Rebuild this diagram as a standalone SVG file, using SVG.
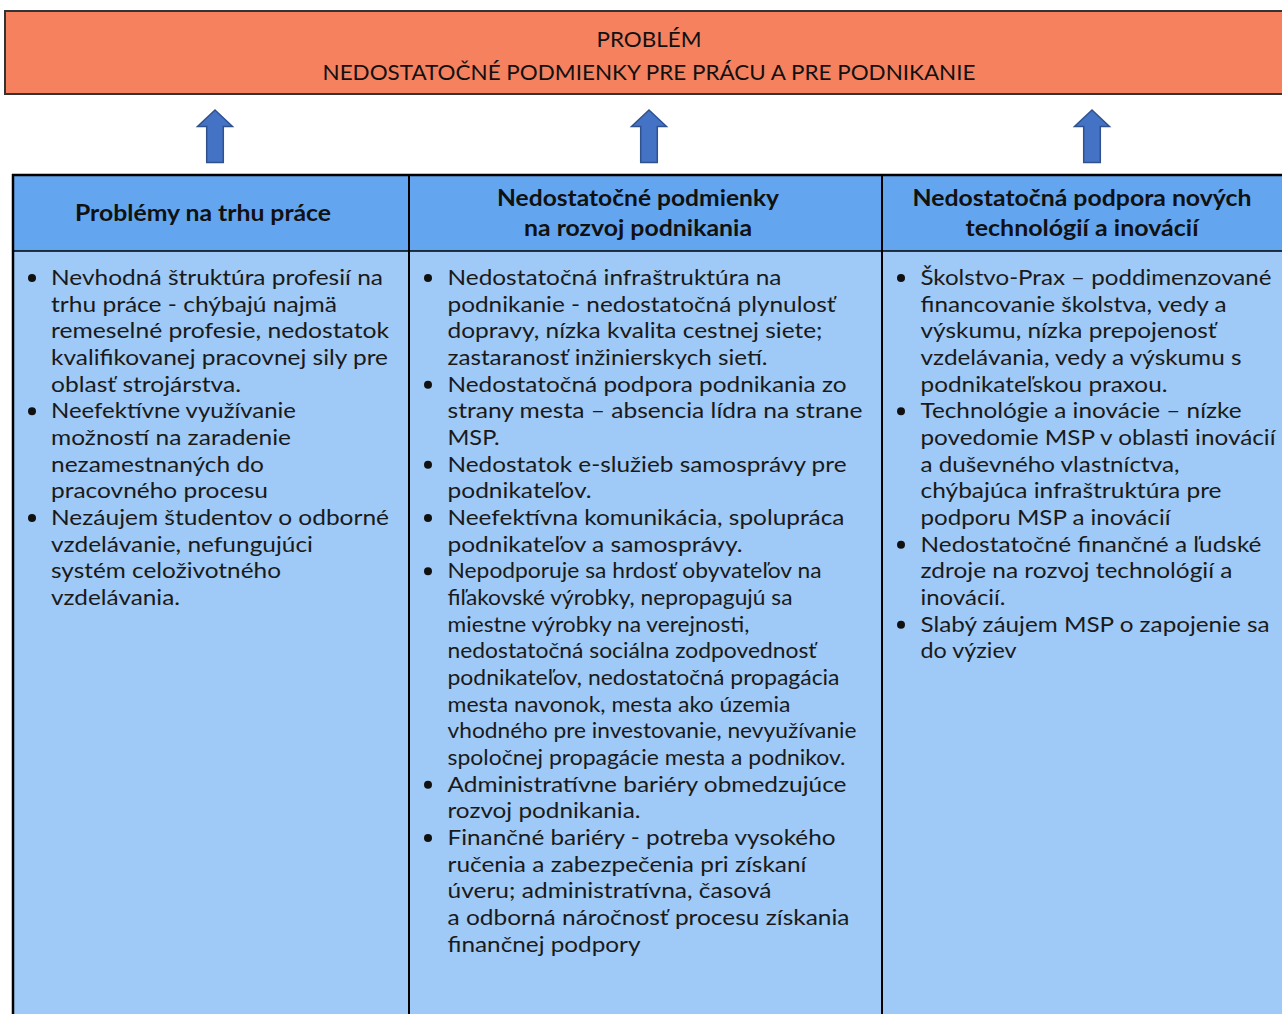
<svg xmlns="http://www.w3.org/2000/svg" width="1282" height="1014" viewBox="0 0 1282 1014">
<defs>
<style>
text{font-family:Lato,"Open Sans","Liberation Sans",sans-serif}
.title{font-size:22px;fill:#111;text-anchor:middle}
.hdr{font-size:22px;font-weight:bold;fill:#111;text-anchor:middle}
.b{font-size:22px;fill:#1a1a1a}
.bul{fill:#111}
.arrow{fill:#4472C4;stroke:#2F528F;stroke-width:1.5}
.hcell{fill:#63A6EF}
.bcell{fill:#9FC9F6}
.grid{stroke:#000;fill:none}
</style>
</defs>
<rect width="1282" height="1014" fill="#fff"/>

<g id="problem">
<rect x="5" y="11" width="1290" height="83" fill="#F6815F" stroke="#333" stroke-width="2"/>
<text class="title" x="649" y="47" textLength="105" lengthAdjust="spacingAndGlyphs">PROBLÉM</text>
<text class="title" x="649" y="80" textLength="653" lengthAdjust="spacingAndGlyphs">NEDOSTATOČNÉ PODMIENKY PRE PRÁCU A PRE PODNIKANIE</text>
</g>

<g id="connectors">
<path class="arrow" d="M215,110 L232.5,126.5 L223.3,126.5 L223.3,162.5 L206.7,162.5 L206.7,126.5 L197.5,126.5 Z"/>
<path class="arrow" d="M649,110 L666.5,126.5 L657.3,126.5 L657.3,162.5 L640.7,162.5 L640.7,126.5 L631.5,126.5 Z"/>
<path class="arrow" d="M1092,110 L1109.5,126.5 L1100.3,126.5 L1100.3,162.5 L1083.7,162.5 L1083.7,126.5 L1074.5,126.5 Z"/>
</g>

<g id="table-grid">
<rect class="hcell" x="13" y="175" width="1275" height="76"/>
<rect class="bcell" x="13" y="251" width="1275" height="770"/>
<line class="grid" x1="12" y1="175" x2="1290" y2="175" stroke-width="2.5"/>
<line class="grid" x1="13" y1="174" x2="13" y2="1020" stroke-width="2.5"/>
<line class="grid" x1="409" y1="174" x2="409" y2="1020" stroke-width="2"/>
<line class="grid" x1="882" y1="174" x2="882" y2="1020" stroke-width="2"/>
<line class="grid" x1="13" y1="251" x2="1290" y2="251" stroke-width="1.5"/>
</g>

<g id="col1">
<text class="hdr" x="203" y="221" textLength="256" lengthAdjust="spacingAndGlyphs">Problémy na trhu práce</text>
<g class="bul"><circle cx="32" cy="278" r="4"/><circle cx="32" cy="411.3" r="4"/><circle cx="32" cy="518" r="4"/></g>
<text class="b" x="51" y="285" textLength="332" lengthAdjust="spacingAndGlyphs">Nevhodná štruktúra profesií na</text>
<text class="b" x="51" y="311.67" textLength="286" lengthAdjust="spacingAndGlyphs">trhu práce - chýbajú najmä</text>
<text class="b" x="51" y="338.33" textLength="338" lengthAdjust="spacingAndGlyphs">remeselné profesie, nedostatok</text>
<text class="b" x="51" y="365" textLength="337" lengthAdjust="spacingAndGlyphs">kvalifikovanej pracovnej sily pre</text>
<text class="b" x="51" y="391.67" textLength="190" lengthAdjust="spacingAndGlyphs">oblasť strojárstva.</text>
<text class="b" x="51" y="418.33" textLength="245" lengthAdjust="spacingAndGlyphs">Neefektívne využívanie</text>
<text class="b" x="51" y="445" textLength="240" lengthAdjust="spacingAndGlyphs">možností na zaradenie</text>
<text class="b" x="51" y="471.67" textLength="213" lengthAdjust="spacingAndGlyphs">nezamestnaných do</text>
<text class="b" x="51" y="498.33" textLength="217" lengthAdjust="spacingAndGlyphs">pracovného procesu</text>
<text class="b" x="51" y="525" textLength="338" lengthAdjust="spacingAndGlyphs">Nezáujem študentov o odborné</text>
<text class="b" x="51" y="551.67" textLength="262" lengthAdjust="spacingAndGlyphs">vzdelávanie, nefungujúci</text>
<text class="b" x="51" y="578.33" textLength="230" lengthAdjust="spacingAndGlyphs">systém celoživotného</text>
<text class="b" x="51" y="605" textLength="129" lengthAdjust="spacingAndGlyphs">vzdelávania.</text>
</g>

<g id="col2">
<text class="hdr" x="638" y="206" textLength="282" lengthAdjust="spacingAndGlyphs">Nedostatočné podmienky</text>
<text class="hdr" x="638" y="236" textLength="228" lengthAdjust="spacingAndGlyphs">na rozvoj podnikania</text>
<g class="bul"><circle cx="428" cy="278" r="4"/><circle cx="428" cy="384.67" r="4"/><circle cx="428" cy="464.67" r="4"/><circle cx="428" cy="518" r="4"/><circle cx="428" cy="571.33" r="4"/><circle cx="428" cy="784.67" r="4"/><circle cx="428" cy="838" r="4"/></g>
<text class="b" x="447.5" y="285" textLength="334" lengthAdjust="spacingAndGlyphs">Nedostatočná infraštruktúra na</text>
<text class="b" x="447.5" y="311.67" textLength="388" lengthAdjust="spacingAndGlyphs">podnikanie - nedostatočná plynulosť</text>
<text class="b" x="447.5" y="338.33" textLength="375" lengthAdjust="spacingAndGlyphs">dopravy, nízka kvalita cestnej siete;</text>
<text class="b" x="447.5" y="365" textLength="320" lengthAdjust="spacingAndGlyphs">zastaranosť inžinierskych sietí.</text>
<text class="b" x="447.5" y="391.67" textLength="399" lengthAdjust="spacingAndGlyphs">Nedostatočná podpora podnikania zo</text>
<text class="b" x="447.5" y="418.33" textLength="415" lengthAdjust="spacingAndGlyphs">strany mesta – absencia lídra na strane</text>
<text class="b" x="447.5" y="445" textLength="52" lengthAdjust="spacingAndGlyphs">MSP.</text>
<text class="b" x="447.5" y="471.67" textLength="399" lengthAdjust="spacingAndGlyphs">Nedostatok e-služieb samosprávy pre</text>
<text class="b" x="447.5" y="498.33" textLength="144" lengthAdjust="spacingAndGlyphs">podnikateľov.</text>
<text class="b" x="447.5" y="525" textLength="397" lengthAdjust="spacingAndGlyphs">Neefektívna komunikácia, spolupráca</text>
<text class="b" x="447.5" y="551.67" textLength="295" lengthAdjust="spacingAndGlyphs">podnikateľov a samosprávy.</text>
<text class="b" x="447.5" y="578.33" textLength="374" lengthAdjust="spacingAndGlyphs">Nepodporuje sa hrdosť obyvateľov na</text>
<text class="b" x="447.5" y="605" textLength="345" lengthAdjust="spacingAndGlyphs">fiľakovské výrobky, nepropagujú sa</text>
<text class="b" x="447.5" y="631.67" textLength="302" lengthAdjust="spacingAndGlyphs">miestne výrobky na verejnosti,</text>
<text class="b" x="447.5" y="658.33" textLength="369" lengthAdjust="spacingAndGlyphs">nedostatočná sociálna zodpovednosť</text>
<text class="b" x="447.5" y="685" textLength="392" lengthAdjust="spacingAndGlyphs">podnikateľov, nedostatočná propagácia</text>
<text class="b" x="447.5" y="711.67" textLength="343" lengthAdjust="spacingAndGlyphs">mesta navonok, mesta ako územia</text>
<text class="b" x="447.5" y="738.33" textLength="409" lengthAdjust="spacingAndGlyphs">vhodného pre investovanie, nevyužívanie</text>
<text class="b" x="447.5" y="765" textLength="398" lengthAdjust="spacingAndGlyphs">spoločnej propagácie mesta a podnikov.</text>
<text class="b" x="447.5" y="791.67" textLength="399" lengthAdjust="spacingAndGlyphs">Administratívne bariéry obmedzujúce</text>
<text class="b" x="447.5" y="818.33" textLength="193" lengthAdjust="spacingAndGlyphs">rozvoj podnikania.</text>
<text class="b" x="447.5" y="845" textLength="388" lengthAdjust="spacingAndGlyphs">Finančné bariéry - potreba vysokého</text>
<text class="b" x="447.5" y="871.67" textLength="359" lengthAdjust="spacingAndGlyphs">ručenia a zabezpečenia pri získaní</text>
<text class="b" x="447.5" y="898.33" textLength="324" lengthAdjust="spacingAndGlyphs">úveru; administratívna, časová</text>
<text class="b" x="447.5" y="925" textLength="402" lengthAdjust="spacingAndGlyphs">a odborná náročnosť procesu získania</text>
<text class="b" x="447.5" y="951.67" textLength="193" lengthAdjust="spacingAndGlyphs">finančnej podpory</text>
</g>

<g id="col3">
<text class="hdr" x="1082" y="206" textLength="339" lengthAdjust="spacingAndGlyphs">Nedostatočná podpora nových</text>
<text class="hdr" x="1082" y="236" textLength="233" lengthAdjust="spacingAndGlyphs">technológií a inovácií</text>
<g class="bul"><circle cx="901" cy="278" r="4"/><circle cx="901" cy="411.33" r="4"/><circle cx="901" cy="544.67" r="4"/><circle cx="901" cy="624.67" r="4"/></g>
<text class="b" x="920.5" y="285" textLength="351" lengthAdjust="spacingAndGlyphs">Školstvo-Prax – poddimenzované</text>
<text class="b" x="920.5" y="311.67" textLength="306" lengthAdjust="spacingAndGlyphs">financovanie školstva, vedy a</text>
<text class="b" x="920.5" y="338.33" textLength="296" lengthAdjust="spacingAndGlyphs">výskumu, nízka prepojenosť</text>
<text class="b" x="920.5" y="365" textLength="321" lengthAdjust="spacingAndGlyphs">vzdelávania, vedy a výskumu s</text>
<text class="b" x="920.5" y="391.67" textLength="247" lengthAdjust="spacingAndGlyphs">podnikateľskou praxou.</text>
<text class="b" x="920.5" y="418.33" textLength="321" lengthAdjust="spacingAndGlyphs">Technológie a inovácie – nízke</text>
<text class="b" x="920.5" y="445" textLength="355" lengthAdjust="spacingAndGlyphs">povedomie MSP v oblasti inovácií</text>
<text class="b" x="920.5" y="471.67" textLength="259" lengthAdjust="spacingAndGlyphs">a duševného vlastníctva,</text>
<text class="b" x="920.5" y="498.33" textLength="301" lengthAdjust="spacingAndGlyphs">chýbajúca infraštruktúra pre</text>
<text class="b" x="920.5" y="525" textLength="250" lengthAdjust="spacingAndGlyphs">podporu MSP a inovácií</text>
<text class="b" x="920.5" y="551.67" textLength="341" lengthAdjust="spacingAndGlyphs">Nedostatočné finančné a ľudské</text>
<text class="b" x="920.5" y="578.33" textLength="312" lengthAdjust="spacingAndGlyphs">zdroje na rozvoj technológií a</text>
<text class="b" x="920.5" y="605" textLength="85" lengthAdjust="spacingAndGlyphs">inovácií.</text>
<text class="b" x="920.5" y="631.67" textLength="349" lengthAdjust="spacingAndGlyphs">Slabý záujem MSP o zapojenie sa</text>
<text class="b" x="920.5" y="658.33" textLength="96" lengthAdjust="spacingAndGlyphs">do výziev</text>
</g>
</svg>
